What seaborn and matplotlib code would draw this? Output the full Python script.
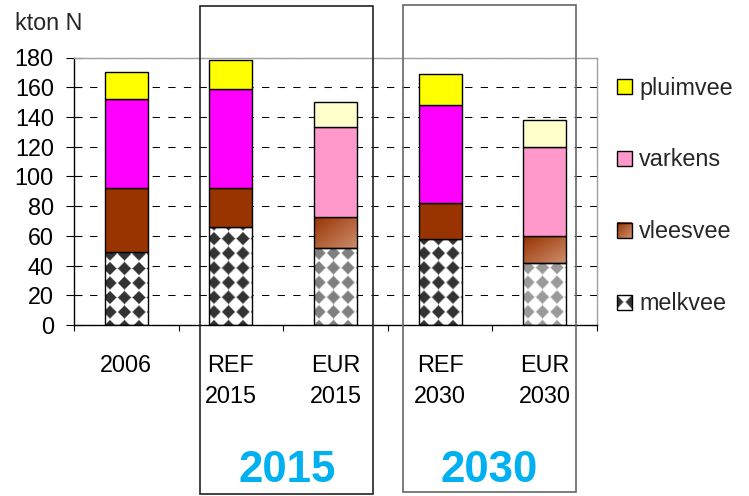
import numpy as np
import pandas as pd
import matplotlib
matplotlib.use("Agg")
import matplotlib.pyplot as plt
import seaborn as sns
from matplotlib.patches import Rectangle
from matplotlib.legend_handler import HandlerBase
from matplotlib.image import BboxImage
from matplotlib.transforms import Bbox, TransformedBbox

# ---- data (kton N) ----
categories = ["2006", "REF 2015", "EUR 2015", "REF 2030", "EUR 2030"]
tick_labels = ["2006", "REF\n2015", "EUR\n2015", "REF\n2030", "EUR\n2030"]
melkvee = [49, 66, 52, 58, 42]
vleesvee = [43, 26, 21, 24, 18]
varkens = [60, 67, 60, 66, 60]
pluimvee = [18, 19, 17, 21, 18]
group_labels = ["2015", "2030"]
y_ticks = [0, 20, 40, 60, 80, 100, 120, 140, 160, 180]

sns.set_theme(style="white")
plt.rcParams["font.family"] = ["Liberation Sans", "DejaVu Sans"]

FS = 16.8
BAR_W = 0.41

df = pd.DataFrame({"scenario": categories, "melkvee": melkvee,
                   "vleesvee": vleesvee, "varkens": varkens,
                   "pluimvee": pluimvee})
is_eur = [c.startswith("EUR") for c in categories]

solid_colors = {
    "pluimvee": ("#FFFF00", "#FFFFCC"),
    "varkens": ("#FF00FF", "#FF99CC"),
    "vleesvee": ("#993300", None),
}
pattern_dark = {"2006": "#333333", "REF 2015": "#333333", "EUR 2015": "#808080",
                "REF 2030": "#333333", "EUR 2030": "#9a9a9a"}


def hex_rgb(h):
    return np.array(matplotlib.colors.to_rgb(h))


def diamond_texture(h, w, dark, period=14.5, r=6.6, ox=5.0, oy=None):
    """Square grid of dark diamonds on white (45-degree checker)."""
    if oy is None:
        oy = (h - 13.0) % period
    yy, xx = np.mgrid[0:h, 0:w].astype(float)
    dx = xx + 0.5 - ox
    dy = yy + 0.5 - oy
    dx = np.abs(dx - np.round(dx / period) * period)
    dy = np.abs(dy - np.round(dy / period) * period)
    d = dx + dy
    alpha = np.clip((r + 0.9 - d) / 1.8, 0, 1)[..., None]
    return (1 - alpha) * np.ones(3) + alpha * hex_rgb(dark)


def gradient_texture(h, w, c0="#993300", c1="#cc8c6c"):
    yy, xx = np.mgrid[0:h, 0:w].astype(float)
    t = (xx / max(w - 1, 1) + yy / max(h - 1, 1)) / 2
    t = t[..., None]
    return (1 - t) * hex_rgb(c0) + t * hex_rgb(c1)


fig = plt.figure(figsize=(7.49, 4.96), dpi=100)
fig.patch.set_facecolor("white")
ax = fig.add_axes([74 / 749, 1 - 325 / 496, 523 / 749, (325 - 57.5) / 496])

# stacked bars, one seaborn layer per livestock type
bottom = np.zeros(len(categories))
segments = {}
for name, vals in [("melkvee", melkvee), ("vleesvee", vleesvee),
                   ("varkens", varkens), ("pluimvee", pluimvee)]:
    n0 = len(ax.patches)
    sns.barplot(data=df, x="scenario", y=name, order=categories,
                bottom=bottom.copy(), width=BAR_W, color="white",
                saturation=1, edgecolor="black", linewidth=1.0,
                errorbar=None, ax=ax)
    segments[name] = list(ax.patches[n0:])
    bottom += np.array(vals, dtype=float)

ax.set_xlim(-0.5, len(categories) - 0.5)
ax.set_ylim(0, 180)

for name in ("pluimvee", "varkens", "vleesvee"):
    ref_c, eur_c = solid_colors[name]
    for patch, eur in zip(segments[name], is_eur):
        if eur and eur_c is None:
            continue
        patch.set_facecolor(eur_c if eur else ref_c)
    for patch in segments[name]:
        patch.set_zorder(2)


def fill_with_image(patch, arr_fn):
    x0, y0 = patch.get_x(), patch.get_y()
    x1, y1 = x0 + patch.get_width(), y0 + patch.get_height()
    p0 = ax.transData.transform((x0, y0))
    p1 = ax.transData.transform((x1, y1))
    w = max(int(round(abs(p1[0] - p0[0]))), 1)
    h = max(int(round(abs(p1[1] - p0[1]))), 1)
    arr = arr_fn(h, w)
    patch.set_facecolor("none")
    patch.set_zorder(2)
    im = ax.imshow(arr, extent=(x0, x1, y0, y1), origin="upper",
                   aspect="auto", interpolation="bilinear", zorder=1.5)
    im.set_clip_path(patch)


for patch, cat in zip(segments["melkvee"], categories):
    fill_with_image(patch, lambda h, w, c=cat: diamond_texture(h, w, pattern_dark[c]))
for patch, eur in zip(segments["vleesvee"], is_eur):
    if eur:
        fill_with_image(patch, lambda h, w: gradient_texture(h, w))

ax.set_xlim(-0.5, len(categories) - 0.5)
ax.set_ylim(0, 180)

# axes styling
ax.set_xlabel("")
ax.set_ylabel("")
ax.set_yticks(y_ticks)
ax.set_yticklabels([str(v) for v in y_ticks], fontsize=FS)
ax.set_xticks(range(len(categories)))
ax.set_xticklabels(tick_labels, fontsize=FS, linespacing=1.42)
ax.set_xticks(np.arange(-0.5, len(categories)), minor=True)
ax.tick_params(axis="x", which="major", length=0, pad=21, colors="black")
ax.tick_params(axis="x", which="minor", length=4, width=0.8, direction="out",
               color="black", bottom=True)
ax.tick_params(axis="y", which="major", length=11, width=0.8, direction="inout",
               pad=9.0, colors="black", left=True)
ax.set_axisbelow(True)
ax.yaxis.grid(True, color="black", linewidth=0.75, linestyle=(0, (7, 8)))
ax.xaxis.grid(False)
for side in ("left", "bottom"):
    ax.spines[side].set_color("black")
    ax.spines[side].set_linewidth(1.0)
for side in ("top", "right"):
    ax.spines[side].set_visible(True)
    ax.spines[side].set_color("#a0a0a0")
    ax.spines[side].set_linewidth(1.0)

fig.text(15 / 749, 1 - 23 / 496, "kton N", fontsize=FS, ha="left", va="center")

# scenario year boxes with big year labels
box_specs = [((200.3, 6.3, 373.3, 494.0), "#222222"),
             ((402.7, 4.7, 575.7, 492.0), "#666666")]
for ((l, t, r, b), col), lab in zip(box_specs, group_labels):
    fig.add_artist(Rectangle((l / 749, 1 - b / 496), (r - l) / 749, (b - t) / 496,
                             transform=fig.transFigure, facecolor="none",
                             edgecolor=col, linewidth=1.2))
    fig.text((l + r) / 2 / 749, 1 - 482 / 496, lab, fontsize=31.5, fontweight="bold",
             color="#00B0F0", ha="center", va="baseline")


# legend with textured swatches
class ImageSwatch(HandlerBase):
    def __init__(self, arr):
        super().__init__()
        self.arr = arr

    def create_artists(self, legend, orig_handle, xdescent, ydescent,
                       width, height, fontsize, trans):
        bb = TransformedBbox(Bbox.from_bounds(-xdescent, -ydescent, width, height), trans)
        img = BboxImage(bb, interpolation="bilinear")
        img.set_data(self.arr)
        frame = Rectangle((-xdescent, -ydescent), width, height, facecolor="none",
                          edgecolor="black", linewidth=1.0, transform=trans)
        return [img, frame]


h_pluim = Rectangle((0, 0), 1, 1, facecolor="#FFFF00", edgecolor="black", linewidth=1.0)
h_vark = Rectangle((0, 0), 1, 1, facecolor="#FF99CC", edgecolor="black", linewidth=1.0)
h_vlees = Rectangle((0, 0), 1, 1)
h_melk = Rectangle((0, 0), 1, 1)
leg = fig.legend([h_pluim, h_vark, h_vlees, h_melk],
                 ["pluimvee", "varkens", "vleesvee", "melkvee"],
                 handler_map={h_vlees: ImageSwatch(gradient_texture(16, 16)),
                              h_melk: ImageSwatch(diamond_texture(16, 16, "#333333",
                                                                  period=16, r=6.8,
                                                                  ox=0, oy=8))},
                 loc="upper left", bbox_to_anchor=(617 / 749, 1 - 76.5 / 496),
                 bbox_transform=fig.transFigure, frameon=False, fontsize=FS,
                 handlelength=0.64, handleheight=0.64, handletextpad=0.32,
                 labelspacing=2.1, borderpad=0, borderaxespad=0)

fig.savefig("out.png", dpi=100, facecolor="white")
